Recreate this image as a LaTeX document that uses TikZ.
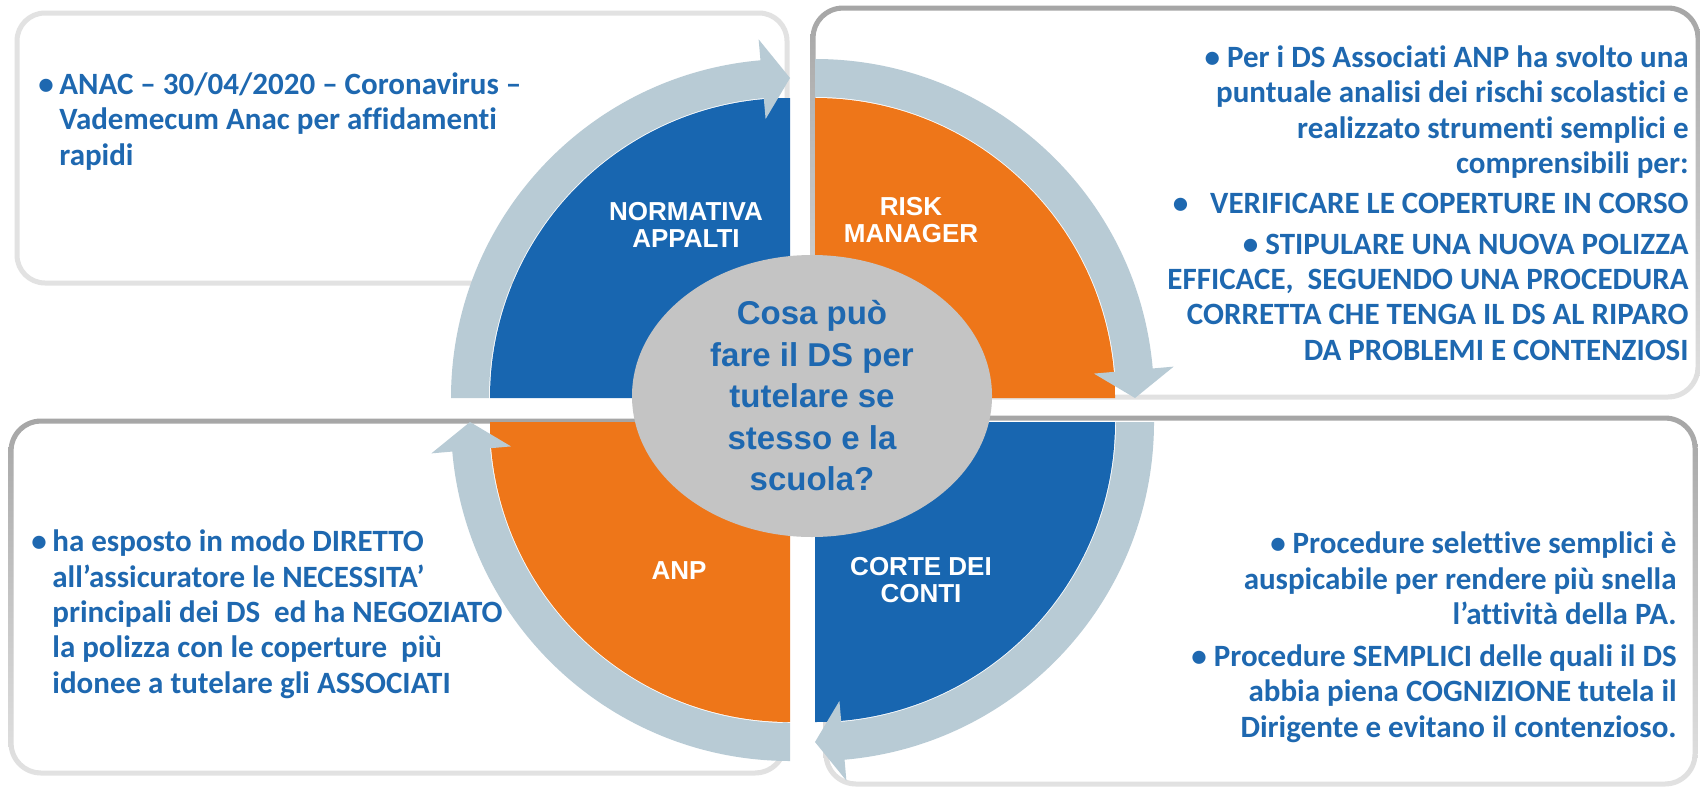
\documentclass[tikz,border=0pt]{standalone}
\usepackage{fontspec}
\setmainfont{Carlito}[Ligatures=NoCommon]
\newfontfamily\arialfont{Liberation Sans}
\usetikzlibrary{calc,shapes.geometric,positioning}

\definecolor{qblue}{RGB}{24,102,176}
\definecolor{qorange}{RGB}{238,118,25}
\definecolor{ringgray}{RGB}{184,203,213}
\definecolor{ellgray}{RGB}{196,196,196}
\definecolor{txtblue}{RGB}{30,104,176}
\definecolor{linedark}{RGB}{166,166,166}
\definecolor{linelight}{RGB}{226,226,226}

\tikzset{
  boxtext/.style={font=\bfseries\fontsize{15.5}{17.65}\selectfont, text=txtblue, inner sep=0pt},
  quadlabel/.style={font=\arialfont\bfseries\fontsize{13}{13.5}\selectfont, text=white, align=center, inner sep=0pt},
}

\begin{document}
\begin{tikzpicture}[x=0.5pt,y=-0.5pt]
    \fill[white] (0,0) rectangle (1700,787);
    \useasboundingbox (0,0) rectangle (1700,787);
    % text boxes
    \draw[linelight, line width=2.5pt, rounded corners=14pt] (17,13) rectangle (787,283);
    \shade[top color=linedark, bottom color=linelight, even odd rule, rounded corners=16.25pt]
      (810.5,5.5) rectangle (1700.5,399.5) [rounded corners=13.75pt] (815.5,10.5) rectangle (1695.5,394.5);
    \shade[top color=linedark, bottom color=linelight, even odd rule, rounded corners=16.25pt]
      (823.5,415.5) rectangle (1697.5,786.5) [rounded corners=13.75pt] (828.5,420.5) rectangle (1692.5,781.5);
    \shade[top color=linedark, bottom color=linelight, even odd rule, rounded corners=16.25pt]
      (8.5,418.5) rectangle (787.5,775.5) [rounded corners=13.75pt] (13.5,423.5) rectangle (782.5,770.5);
    % quadrants
    \coordinate (cTL) at (790,398);
    \coordinate (cTR) at (815,398);
    \coordinate (cBR) at (815,422);
    \coordinate (cBL) at (790,422);
    \fill[qblue]   (cTL) -- ++(180:300) arc[start angle=180, end angle=270, radius=300] -- cycle;
    \fill[qorange] (cTR) -- ++(270:300) arc[start angle=270, end angle=360, radius=300] -- cycle;
    \fill[qblue]   (cBR) -- ++(0:300)   arc[start angle=0,   end angle=90,  radius=300] -- cycle;
    \fill[qorange] (cBL) -- ++(90:300)  arc[start angle=90,  end angle=180, radius=300] -- cycle;
    % circular arrows
    \foreach \c/\s in {cTL/180, cTR/270, cBR/0, cBL/90}
      \fill[ringgray] (\c) ++(\s:339) arc[start angle=\s, end angle=\s+85, radius=339]
        -- ($(\c)+({\s+85}:360)$) -- ($(\c)+({\s+90}:320)$) -- ($(\c)+({\s+85}:280)$)
        -- ($(\c)+({\s+85}:301)$) arc[start angle=\s+85, end angle=\s, radius=301] -- cycle;
    % centre
    \node[ellipse, fill=ellgray, minimum width=180pt, minimum height=141pt, inner sep=0pt,
          text=txtblue, align=center, font=\arialfont\bfseries\fontsize{16.5}{20.75}\selectfont]
          (ds) at (812,396) {Cosa può\\fare il DS per\\tutelare se\\stesso e la\\scuola?};
    \node[quadlabel, anchor=base] (norm) at (686,247) {NORMATIVA\\APPALTI};
    \node[quadlabel, anchor=base] (risk) at (911,242) {RISK\\MANAGER};
    \node[quadlabel, anchor=base] (anp) at (679,579) {ANP};
    \node[quadlabel, anchor=base] (corte) at (921,602) {CORTE DEI\\CONTI};
    % texts
    \node[boxtext, anchor=base west, align=left] (anac) at (38,165)
      {\makebox[10.5pt][l]{•}ANAC – 30/04/2020 – Coronavirus –\\\hspace*{10.5pt}Vademecum Anac per affidamenti\\\hspace*{10.5pt}rapidi};
    \node[boxtext, anchor=base east, align=right] (risktext) at (1689,360)
      {• Per i DS Associati ANP ha svolto una\\puntuale analisi dei rischi scolastici e\\realizzato strumenti semplici e\\comprensibili per:\\[2.5pt]
       •\hspace{11pt}VERIFICARE LE COPERTURE IN CORSO\\[2.5pt]
       • STIPULARE UNA NUOVA POLIZZA\\EFFICACE,\ \ SEGUENDO UNA PROCEDURA\\CORRETTA CHE TENGA IL DS AL RIPARO\\DA PROBLEMI E CONTENZIOSI};
    \node[boxtext, anchor=base east, align=right] (cortetext) at (1677,737)
      {• Procedure selettive semplici è\\auspicabile per rendere più snella\\l’attività della PA.\\[3.4pt]
       • Procedure SEMPLICI delle quali il DS\\abbia piena COGNIZIONE tutela il\\Dirigente e evitano il contenzioso.};
    \node[boxtext, anchor=base west, align=left] (anptext) at (31,693)
      {\makebox[10.5pt][l]{•}ha esposto in modo DIRETTO\\\hspace*{10.5pt}all’assicuratore le NECESSITA’\\\hspace*{10.5pt}principali dei DS\ \ ed ha NEGOZIATO\\\hspace*{10.5pt}la polizza con le coperture\ \ più\\\hspace*{10.5pt}idonee a tutelare gli ASSOCIATI};
\end{tikzpicture}
\end{document}
